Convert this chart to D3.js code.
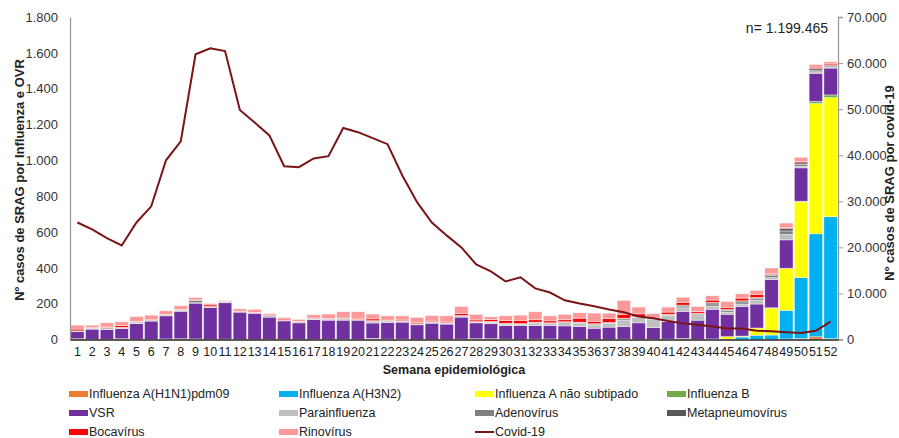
<!DOCTYPE html>
<html><head><meta charset="utf-8">
<script src="https://cdn.jsdelivr.net/npm/d3@7"></script>
<style>
body{margin:0;background:#fff;}
svg{font-family:"Liberation Sans",Arial,sans-serif;}
</style></head>
<body><svg id="c" width="899" height="438"></svg>
<script>
const weeks = d3.range(1, 53);
const seriesNames = ["Influenza A(H1N1)pdm09","Influenza A(H3N2)","Influenza A não subtipado","Influenza B","VSR","Parainfluenza","Adenovírus","Metapneumovírus","Bocavírus","Rinovírus"];
const seriesColors = ["#ED7D31","#00B0F0","#FFFF00","#70AD47","#7030A0","#BFBFBF","#808080","#595959","#FF0000","#FF9999"];
const h1n1 =   [0,0,0,0,0,0,0,0,0,0, 0,0,0,0,0,0,0,0,0,0, 0,0,0,0,0,0,0,0,0,0, 0,0,0,0,0,0,0,0,0,0, 0,4,0,0,0,0,0,0,3,5, 15,5];
const h3n2 =   [0,0,0,0,0,0,0,0,0,0, 0,0,0,0,0,0,0,0,0,0, 0,0,0,0,0,0,0,0,0,0, 0,0,0,0,0,0,0,0,0,0, 0,0,0,1,2,14,24,25,160,340, 575,680];
const fluANs = [4,1,1,4,1,1,3,4,3,1, 1,1,1,1,1,1,1,1,1,1, 3,2,2,1,1,1,2,3,3,2, 1,2,3,1,1,1,1,1,1,1, 1,1,1,1,14,5,40,150,233,423, 727,665];
const fluB =   [0,0,0,0,0,0,0,0,0,0, 1,0,0,0,0,0,0,0,0,0, 3,0,0,0,0,0,0,1,1,0, 0,0,0,0,0,0,0,1,0,0, 1,0,0,1,0,0,0,2,2,4, 12,15];
const vsr =    [40,57,55,58,88,102,129,154,200,178, 203,152,146,124,103,92,111,107,107,107, 86,93,95,81,90,85,123,89,84,76, 78,76,75,75,71,62,68,70,92,66, 98,152,107,166,125,165,134,158,158,186, 157,150];
const para =   [2,2,3,2,3,1,2,2,2,1, 1,1,1,2,1,2,2,3,3,2, 8,4,2,2,3,4,3,3,8,8, 5,12,10,18,20,18,22,37,30,45, 35,20,30,18,12,14,22,10,30,8, 8,5];
const adeno =  [2,4,6,3,5,2,3,4,12,3, 3,2,2,6,2,3,3,3,5,2, 3,5,3,3,3,2,4,3,3,3, 3,5,3,3,3,5,3,8,3,4, 4,10,7,12,10,12,9,12,20,12, 10,7];
const metap =  [0,1,3,1,2,3,2,2,3,1, 4,1,1,3,1,2,2,1,2,1, 2,2,2,1,1,1,2,1,2,2, 2,2,2,2,2,2,2,2,2,1, 2,5,2,8,6,6,6,6,14,8, 8,5];
const bocav =  [10,2,2,9,2,1,1,1,1,9, 1,1,1,1,6,1,1,2,2,6, 10,2,5,8,5,5,11,9,10,14, 18,13,11,11,22,14,20,22,15,3, 12,15,9,13,11,15,15,6,5,8, 8,6];
const rino =   [22,13,23,22,27,26,20,21,14,8, 4,13,16,8,9,11,18,25,35,36, 27,24,23,27,31,34,39,31,16,27, 29,45,28,30,30,45,31,77,38,25, 28,29,28,24,32,24,24,30,25,23, 15,12];
const covid =  [25400,23900,22000,20400,25400,28900,38900,43000,61900,63200, 62600,49800,47100,44300,37600,37400,39300,39800,45900,45000, 43700,42400,35600,29800,25400,22600,20000,16300,14800,12600, 13500,11100,10200,8500,7800,7200,6500,5900,5000,4600, 4000,3500,3200,2800,2400,2400,1900,1800,1600,1400, 1900,3900];
const leftTicks = [0,200,400,600,800,1000,1200,1400,1600,1800];
const rightTicks = [0,10000,20000,30000,40000,50000,60000,70000];
const seriesData = [h1n1,h3n2,fluANs,fluB,vsr,para,adeno,metap,bocav,rino];

const svg = d3.select("#c");
const L = 70, R = 838, T = 17, B = 339.5;
const x = d3.scaleBand().domain(weeks).range([L, R]).paddingInner(0.09).paddingOuter(0.045);
const y = d3.scaleLinear().domain([0,1800]).range([B, T]);
const y2 = d3.scaleLinear().domain([0,70000]).range([B, T]);
const fmt = v => d3.format(",")(v).replace(/,/g, ".");

const rows = weeks.map((w,i) => { const o = {week:w}; seriesNames.forEach((n,k)=> o[n] = seriesData[k][i]); return o; });
const stack = d3.stack().keys(seriesNames)(rows);

svg.append("g").selectAll("g").data(stack).join("g")
  .attr("fill", (d,i) => seriesColors[i])
  .selectAll("rect").data(d => d).join("rect")
  .attr("x", d => x(d.data.week))
  .attr("width", x.bandwidth())
  .attr("y", d => y(d[1]))
  .attr("height", d => Math.max(0, y(d[0]) - y(d[1])))
  .attr("stroke", "#fff").attr("stroke-width", 0.6).attr("stroke-opacity", 0.7);

// left axis
const ga = svg.append("g").attr("transform", `translate(${L},0)`)
  .call(d3.axisLeft(y).tickValues(leftTicks).tickSize(0).tickPadding(12).tickFormat(fmt));
ga.select(".domain").attr("stroke", "#9a9a9a").attr("stroke-width", 1.3);
ga.selectAll("text").attr("font-size", 13).attr("fill", "#333").attr("font-family", "Liberation Sans, Arial, sans-serif");

// right axis
const gr = svg.append("g").attr("transform", `translate(${R},0)`)
  .call(d3.axisRight(y2).tickValues(rightTicks).tickSize(5).tickPadding(4).tickFormat(fmt));
gr.select(".domain").attr("stroke", "#9a9a9a").attr("stroke-width", 1.3);
gr.selectAll("line").attr("stroke", "#9a9a9a");
gr.selectAll("text").attr("font-size", 13).attr("fill", "#333").attr("font-family", "Liberation Sans, Arial, sans-serif");

// bottom axis
const gb = svg.append("g").attr("transform", `translate(0,${B})`)
  .call(d3.axisBottom(x).tickSize(0).tickPadding(8));
gb.select(".domain").attr("stroke", "#222").attr("stroke-width", 1.5);
gb.selectAll("text").attr("font-size", 12.5).attr("fill", "#222").attr("font-family", "Liberation Sans, Arial, sans-serif");

// covid line
svg.append("path").datum(covid)
  .attr("fill", "none").attr("stroke", "#7B1416").attr("stroke-width", 2)
  .attr("d", d3.line().x((d,i) => x(weeks[i]) + x.bandwidth()/2).y(d => y2(d)));

// titles
svg.append("text").attr("transform", "translate(24,180) rotate(-90)")
  .attr("text-anchor", "middle").attr("font-size", 13).attr("font-weight", "bold").attr("fill", "#222")
  .text("Nº casos de SRAG por Influenza e OVR");
svg.append("text").attr("transform", "translate(894,183) rotate(-90)")
  .attr("text-anchor", "middle").attr("font-size", 13).attr("font-weight", "bold").attr("fill", "#222")
  .text("Nº casos de SRAG por covid-19");
svg.append("text").attr("x", 454).attr("y", 374)
  .attr("text-anchor", "middle").attr("font-size", 12.5).attr("font-weight", "bold").attr("fill", "#222")
  .text("Semana epidemiológica");
svg.append("text").attr("x", 828).attr("y", 33)
  .attr("text-anchor", "end").attr("font-size", 14).attr("fill", "#222")
  .text("n= 1.199.465");

// legend
const legendItems = seriesNames.map((n,i)=>({name:n, color:seriesColors[i], type:"rect"}))
  .concat([{name:"Covid-19", color:"#7B1416", type:"line"}]);
const colX = [69, 279, 475, 667];
const rowY = [394, 413, 432];
const lg = svg.append("g");
legendItems.forEach((d,i) => {
  const cx = colX[i % 4], cy = rowY[Math.floor(i / 4)];
  if (d.type === "rect") {
    lg.append("rect").attr("x", cx).attr("y", cy - 3).attr("width", 19).attr("height", 6).attr("fill", d.color);
  } else {
    lg.append("line").attr("x1", cx).attr("x2", cx + 19).attr("y1", cy).attr("y2", cy).attr("stroke", d.color).attr("stroke-width", 2);
  }
  lg.append("text").attr("x", cx + 20).attr("y", cy).attr("dy", "0.35em")
    .attr("font-size", 12.5).attr("fill", "#222").text(d.name);
});
</script></body></html>
